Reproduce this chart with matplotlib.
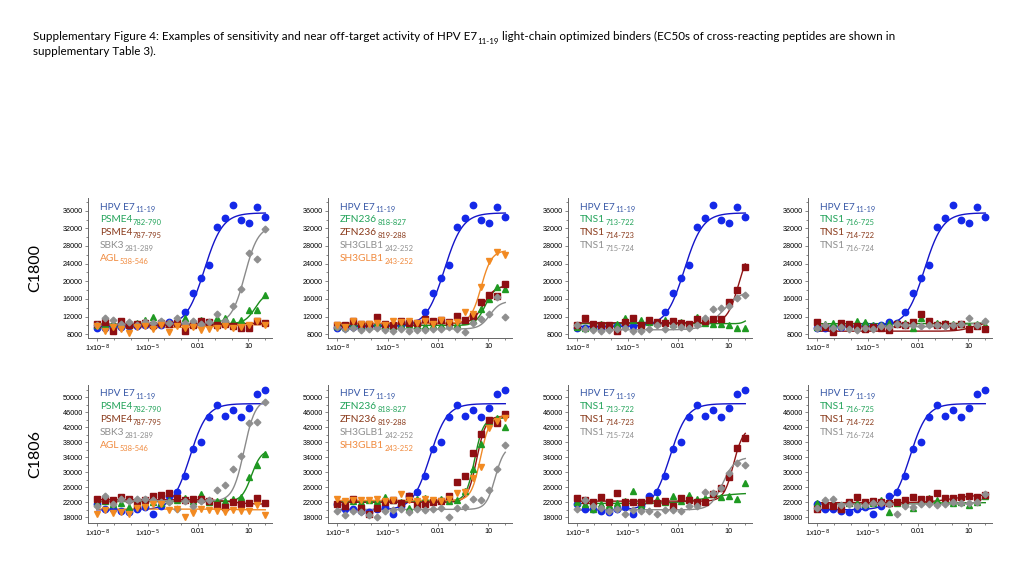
import numpy as np
import matplotlib.pyplot as plt
from matplotlib.text import Annotation
from matplotlib.ticker import FixedLocator, MultipleLocator, NullFormatter

# 3-fold dilution series (uM), low -> high
conc = [9.56e-9, 2.87e-8, 8.60e-8, 2.58e-7, 7.74e-7, 2.32e-6, 6.97e-6, 2.09e-5,
        6.27e-5, 1.88e-4, 5.65e-4, 1.69e-3, 5.08e-3, 1.52e-2, 4.57e-2, 0.137,
        0.412, 1.23, 3.70, 11.1, 33.3, 100.0]

# ---- C1800 ----
hpv_1800 = [9500, 9400, 9700, 9600, 9800, 9900, 10000, 9800, 10200, 10700, 10600,
            13100, 17400, 20800, 23700, 32200, 34400, 37300, 33900, 33300, 36900, 34500]
psme4a_1800 = [10000, 10300, 10500, 10400, 10200, 10600, 11200, 12000, 10800, 10500, 11300,
               11600, 10700, 11200, 10600, 11800, 11600, 10900, 11300, 13600, 13600, 17000]
psme4b_1800 = [10400, 10700, 8700, 11000, 10100, 10300, 10500, 10100, 10600, 10300, 10500,
               8700, 10200, 10900, 10800, 10100, 10300, 9900, 9500, 9400, 10900, 10500]
sbk3_1800 = [10100, 11800, 11300, 10300, 10800, 10200, 10700, 10500, 11000, 10600, 11700,
             10600, 10900, 10400, 10800, 12600, 11000, 14300, 18200, 26500, 25000, 31800]
agl_1800 = [9900, 8700, 9600, 9300, 8400, 9600, 9900, 9200, 10200, 8600, 9800,
            9400, 9700, 9000, 9300, 9500, 9900, 9400, 9600, 10000, 11000, 10000]
zfna_1800 = [9900, 9700, 10300, 10200, 10000, 10600, 10100, 9900, 10200, 10400, 10000,
             9900, 10200, 10100, 10500, 10300, 10900, 11200, 13800, 15900, 18800, 18200]
zfnb_1800 = [10200, 10000, 11000, 10400, 10300, 12000, 10400, 10200, 11000, 10500, 10500,
             11400, 11000, 11200, 10800, 12200, 11300, 12200, 15400, 16900, 16700, 19500]
sh3a_1800 = [9700, 9100, 9500, 9000, 9300, 9400, 8900, 8700, 9200, 8800, 9000,
             8900, 9300, 9100, 9700, 9200, 8500, 10600, 11400, 12600, 16400, 12000]
sh3b_1800 = [10000, 9700, 11000, 10400, 10300, 10500, 10200, 11000, 10800, 10900, 10600,
             11100, 10300, 11200, 10600, 10800, 13100, 12500, 18800, 24500, 26700, 26000]
tnsa_1800 = [9700, 9500, 9800, 10300, 10200, 10400, 11700, 11200, 11300, 10800, 10500,
             11200, 10300, 10800, 10200, 12000, 10600, 10300, 10300, 10200, 9400, 9400]
tnsb_1800 = [10000, 11800, 10300, 10200, 10000, 8700, 10800, 11800, 10000, 11300, 10700,
             10500, 11000, 10500, 10400, 11500, 11000, 11500, 11500, 15300, 18000, 23200]
tnsc_1800 = [10100, 9100, 9000, 8700, 8900, 9200, 9500, 8700, 8700, 9300, 10100,
             9100, 9800, 9600, 9400, 10100, 11800, 13800, 13900, 14300, 16300, 17000]
tnsd_1800 = [9700, 10300, 10500, 10200, 10300, 10900, 10700, 10200, 10200, 10500, 10500,
             10600, 9500, 11600, 10800, 10500, 10500, 10400, 10400, 9800, 10300, 10000]
tnse_1800 = [10700, 9600, 8500, 10600, 10300, 9800, 9100, 9600, 9500, 9000, 10300,
             10000, 10700, 12500, 10900, 10200, 10300, 9900, 10400, 9100, 9800, 9300]
tnsf_1800 = [9500, 10200, 9400, 9700, 9300, 9000, 9500, 9300, 9800, 9600, 10300,
             10100, 10000, 9900, 10200, 10100, 9900, 10000, 10300, 11700, 10200, 11100]

# ---- C1806 ----
hpv_1806 = [21500, 20200, 20200, 19700, 19400, 20200, 20800, 18900, 21000, 23700, 24700,
            28900, 36100, 38200, 44800, 48000, 45000, 46500, 44800, 47100, 50900, 51900]
psme4a_1806 = [21700, 22300, 21500, 21800, 20800, 21500, 22000, 22200, 21800, 22500, 22600,
               23200, 22400, 24200, 22100, 22300, 22400, 22800, 23500, 28800, 32000, 34900]
psme4b_1806 = [22800, 22500, 22600, 23300, 22800, 21300, 22700, 23800, 24000, 24600, 23100,
               22600, 22800, 22800, 22400, 21300, 20800, 22000, 21500, 21900, 23100, 21700]
sbk3_1806 = [21000, 23700, 21500, 22800, 22300, 22800, 23000, 22500, 22200, 22100, 20200,
             22400, 21000, 22300, 22600, 25300, 26500, 30800, 34400, 43200, 43500, 48800]
agl_1806 = [18800, 20000, 19100, 19300, 18900, 20400, 20800, 21600, 21500, 20000, 20100,
            18200, 19200, 20200, 20000, 19800, 19500, 19900, 19800, 19600, 21200, 18600]
zfna_1806 = [22200, 22000, 22400, 22100, 22500, 22300, 23300, 22600, 22100, 20600, 22800,
             23200, 22600, 22900, 22400, 22600, 25000, 30800, 37500, 43800, 44600, 42200]
zfnb_1806 = [21500, 21000, 22800, 20400, 18900, 20400, 22200, 22600, 21700, 23700, 21300,
             21500, 22200, 22400, 23700, 27500, 29000, 35100, 40300, 43900, 43100, 45600]
sh3a_1806 = [19800, 18600, 19600, 19400, 18600, 18200, 19700, 19900, 20300, 19500, 20200,
             20000, 20200, 20600, 18200, 20400, 20800, 23000, 22600, 25300, 30800, 37300]
sh3b_1806 = [22800, 22300, 22700, 22500, 22600, 23000, 22400, 22500, 24200, 22600, 22400,
             23000, 22600, 22300, 22800, 24600, 24800, 28500, 31300, 41700, 43600, 44400]
tnsa_1806 = [22000, 21600, 20200, 21500, 21300, 21800, 22300, 25000, 21400, 22500, 22800,
             22200, 23700, 22300, 23900, 22800, 23100, 24200, 23300, 23700, 23000, 27100]
tnsb_1806 = [23200, 22500, 22000, 23300, 22200, 24400, 22200, 22000, 22200, 22600, 21700,
             22400, 20900, 23200, 22700, 22200, 22000, 24300, 25700, 28800, 36400, 39200]
tnsc_1806 = [20200, 22600, 21000, 20500, 19600, 20300, 19000, 19900, 19700, 19600, 19000,
             19900, 20000, 19800, 20900, 21000, 24800, 24500, 25700, 29700, 32500, 31900]
tnsd_1806 = [21800, 21500, 21600, 21400, 21700, 21900, 21500, 21700, 22700, 19500, 21800,
             21900, 20600, 22400, 23200, 22600, 22300, 21800, 22000, 21200, 22100, 23800]
tnse_1806 = [20100, 21200, 21000, 20300, 22200, 23500, 22100, 22300, 22200, 21800, 22100,
             22500, 23500, 22900, 22900, 24400, 23100, 23200, 23500, 23800, 23500, 24000]
tnsf_1806 = [20600, 22500, 22900, 21200, 21600, 21000, 21400, 21700, 21900, 21500, 19000,
             21100, 20800, 21500, 21600, 21200, 21600, 22000, 21700, 21900, 22000, 24100]

# 4PL fit parameters: bottom, top, EC50, hill
fits_1800 = {
    'hpv': [9800, 35500, 0.024, 0.8], 'psme4a': [10400, 17500, 25, 1.4],
    'psme4b': [10100, 10500, 1, 1], 'sbk3': [10400, 32500, 6.1, 1.1],
    'agl': [9500, 10200, 0.1, 0.5], 'zfna': [10000, 19000, 6.4, 1.5],
    'zfnb': [10400, 19000, 5, 1.3], 'sh3a': [9200, 15500, 12, 1.4],
    'sh3b': [10500, 27000, 3.7, 1.4], 'tnsa': [10400, 11600, 100, 3],
    'tnsb': [10600, 28000, 40, 1.3], 'tnsc': [9000, 18000, 5, 0.8],
    'tnsd': [10400, 10500, 1, 1], 'tnse': [8700, 10800, 20, 1],
    'tnsf': [9700, 10600, 5, 1],
}
fits_1806 = {
    'hpv': [20000, 48300, 0.0033, 0.85], 'psme4a': [22200, 36000, 15, 1.5],
    'psme4b': [22700, 21500, 1, 0.8], 'sbk3': [22300, 49500, 5.5, 1.3],
    'agl': [20200, 20000, 1, 1], 'zfna': [22300, 44500, 1.5, 1.7],
    'zfnb': [22000, 45000, 2.0, 1.6], 'sh3a': [20100, 37000, 25, 1.6],
    'sh3b': [22500, 45000, 3.3, 1.6], 'tnsa': [21700, 24500, 0.5, 0.5],
    'tnsb': [22300, 42000, 20, 1.5], 'tnsc': [20000, 34000, 4.5, 1.2],
    'tnsd': [21800, 21900, 1, 1], 'tnse': [21900, 24000, 1, 0.6],
    'tnsf': [21500, 24000, 60, 1.5],
}

data_1800 = dict(hpv=hpv_1800, psme4a=psme4a_1800, psme4b=psme4b_1800, sbk3=sbk3_1800,
                 agl=agl_1800, zfna=zfna_1800, zfnb=zfnb_1800, sh3a=sh3a_1800,
                 sh3b=sh3b_1800, tnsa=tnsa_1800, tnsb=tnsb_1800, tnsc=tnsc_1800,
                 tnsd=tnsd_1800, tnse=tnse_1800, tnsf=tnsf_1800)
data_1806 = dict(hpv=hpv_1806, psme4a=psme4a_1806, psme4b=psme4b_1806, sbk3=sbk3_1806,
                 agl=agl_1806, zfna=zfna_1806, zfnb=zfnb_1806, sh3a=sh3a_1806,
                 sh3b=sh3b_1806, tnsa=tnsa_1806, tnsb=tnsb_1806, tnsc=tnsc_1806,
                 tnsd=tnsd_1806, tnse=tnse_1806, tnsf=tnsf_1806)

# panel contents: (key, name, subscript, colour)
panels = [
    [('hpv', 'HPV E7', '11-19', 'blue'), ('psme4a', 'PSME4', '782-790', 'green'),
     ('psme4b', 'PSME4', '787-795', 'red'), ('sbk3', 'SBK3', '281-289', 'gray'),
     ('agl', 'AGL', '538-546', 'orange')],
    [('hpv', 'HPV E7', '11-19', 'blue'), ('zfna', 'ZFN236', '818-827', 'green'),
     ('zfnb', 'ZFN236', '819-288', 'red'), ('sh3a', 'SH3GLB1', '242-252', 'gray'),
     ('sh3b', 'SH3GLB1', '243-252', 'orange')],
    [('hpv', 'HPV E7', '11-19', 'blue'), ('tnsa', 'TNS1', '713-722', 'green'),
     ('tnsb', 'TNS1', '714-723', 'red'), ('tnsc', 'TNS1', '715-724', 'gray')],
    [('hpv', 'HPV E7', '11-19', 'blue'), ('tnsd', 'TNS1', '716-725', 'green'),
     ('tnse', 'TNS1', '714-722', 'red'), ('tnsf', 'TNS1', '716-724', 'gray')],
]

# marker, marker colour, line colour, label colour, marker size
styles = {
    'blue': ('o', '#1428e8', '#1414c8', '#3a5aa8', 4.6),
    'green': ('^', '#1f9a22', '#1c8c1c', '#23a35a', 4.4),
    'red': ('s', '#8e0f12', '#8e1414', '#8a3b1c', 4.0),
    'gray': ('D', '#8f8f8f', '#8a8a8a', '#8f8f8f', 3.4),
    'orange': ('v', '#f28a22', '#f08a28', '#f0893c', 4.4),
}

plt.rcParams['font.family'] = ['Lato', 'DejaVu Sans']

fig = plt.figure(figsize=(10.24, 5.76), dpi=100)

# title with subscript, assembled from pieces
tsize = 8.4
t1 = fig.text(33 / 1024, 1 - 40 / 576,
              'Supplementary Figure 4: Examples of sensitivity and near off-target activity of HPV E7',
              fontsize=tsize, va='baseline')
s1 = fig.add_artist(Annotation('11-19', xy=(1, 0), xycoords=t1, xytext=(0.3, -1.8),
                               textcoords='offset points', fontsize=5.8, va='baseline'))
fig.add_artist(Annotation(' light-chain optimized binders (EC50s of cross-reacting peptides are shown in',
                          xy=(1, 0), xycoords=(s1, t1), xytext=(0, 0),
                          textcoords='offset points', fontsize=tsize, va='bottom'))
fig.text(33 / 1024, 1 - 55 / 576, 'supplementary Table 3).', fontsize=tsize, va='baseline')

lefts = [88, 328, 568, 808]
rows = [
    ('C1800', 198, 338, data_1800, fits_1800, (7160, 38870), 8000, 36000),
    ('C1806', 385, 523, data_1806, fits_1806, (16480, 53280), 18000, 50000),
]

xfit = np.logspace(np.log10(conc[0]), np.log10(conc[-1]), 300)

for rname, top, bot, data, fits, ylim, ymin, ymax in rows:
    fig.text(35 / 1024, 1 - (top + bot) / 2 / 576, rname, rotation=90,
             fontsize=11.5, va='center', ha='center')
    for col, left in enumerate(lefts):
        ax = fig.add_axes([left / 1024, 1 - bot / 576, 184 / 1024, (bot - top) / 576])
        for key, name, sub, c in panels[col]:
            mk, mc, lc, tc, ms = styles[c]
            b, t, ec, h = fits[key]
            yfit = b + (t - b) / (1 + (ec / xfit) ** h)
            ax.plot(xfit, yfit, color=lc, lw=1.0, zorder=2)
            ax.plot(conc, data[key], mk, color=mc, ms=ms, mec=mc, lw=0, zorder=3)

        ax.set_xscale('log')
        ax.set_xlim(10 ** -8.54, 10 ** 2.4)
        ax.set_ylim(*ylim)
        ax.xaxis.set_major_locator(FixedLocator([1e-8, 1e-5, 1e-2, 1e1]))
        ax.xaxis.set_minor_locator(FixedLocator([10.0 ** k for k in range(-8, 3)]))
        ax.xaxis.set_minor_formatter(NullFormatter())
        ax.set_xticklabels(['1x10$^{-8}$', '1x10$^{-5}$', '0.01', '10'])
        ax.set_yticks(np.arange(ymin, ymax + 1, 4000))
        ax.yaxis.set_minor_locator(MultipleLocator(2000))
        ax.tick_params(labelsize=5.2, length=2.2, width=0.5, color='#555555', pad=1.5)
        ax.tick_params(which='minor', length=1.3, width=0.5, color='#555555')
        for lbl in ax.get_xticklabels() + ax.get_yticklabels():
            lbl.set_family(['Liberation Sans', 'DejaVu Sans'])
        for s in ['top', 'right']:
            ax.spines[s].set_visible(False)
        for s in ['left', 'bottom']:
            ax.spines[s].set_color('#666666')
            ax.spines[s].set_linewidth(0.7)

        # coloured legend text in the upper left
        step = 12.8 / (bot - top)
        for j, (key, name, sub, c) in enumerate(panels[col]):
            tc = styles[c][3]
            tx = ax.text(0.065, 1 - 9 / (bot - top) - j * step, name, transform=ax.transAxes,
                         fontsize=7.3, color=tc, va='center', ha='left')
            ax.annotate(sub, xy=(1, 0), xycoords=tx, xytext=(0.3, -1.3),
                        textcoords='offset points', fontsize=5.4, color=tc,
                        va='bottom', ha='left')

plt.savefig('out.png', dpi=100)
